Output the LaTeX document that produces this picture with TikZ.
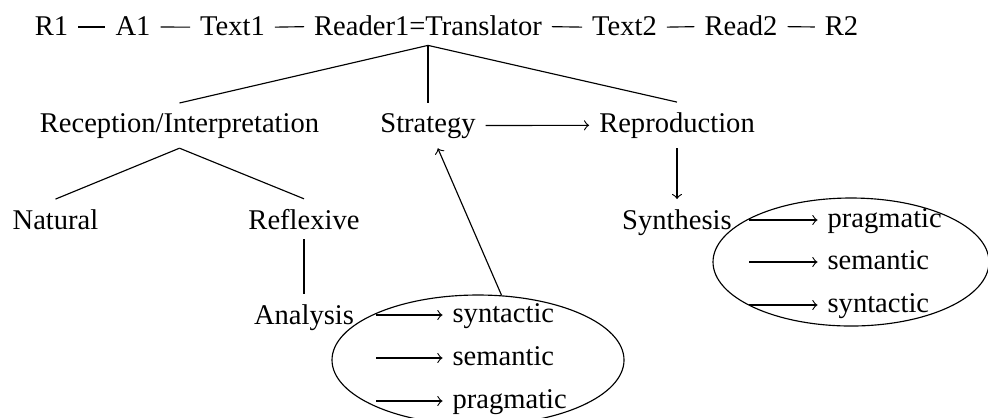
\documentclass[tikz,border=0pt]{standalone}
\usepackage{fontspec}
\setmainfont{Liberation Serif}
\usetikzlibrary{shapes.geometric}

\begin{document}
\begin{tikzpicture}[x=0.35pt, y=-0.35pt]
  \tikzset{every node/.style={anchor=base},
    word/.style={anchor=base west},
    bubble/.style={draw, ellipse, anchor=center, inner sep=0pt}}
  \useasboundingbox (0,0) rectangle (988,417);
  \node (r1) at (51.5,35) {R1};
  \node (a1) at (133,35) {A1};
  \node (text1) at (232.5,35) {Text1};
  \node (reader) at (428,35) {Reader1=Translator};
  \node (text2) at (624.5,35) {Text2};
  \node (read2) at (741,35) {Read2};
  \node (r2) at (841.5,35) {R2};
  \foreach \a/\b in {r1/a1, a1/text1, text1/reader, reader/text2, text2/read2, read2/r2}
    \draw ([yshift=-0.5pt]\a.east) -- ([yshift=-0.5pt]\b.west);
  \node (recep) at (179.5,132) {Reception/Interpretation};
  \node (strat) at (428,132) {Strategy};
  \node (repro) at (677,132) {Reproduction};
  \node (natural) at (55.5,229) {Natural};
  \node (reflex) at (304,229) {Reflexive};
  \node (synth) at (677,229) {Synthesis};
  \node (analysis) at (304,324) {Analysis};
  \node[bubble, minimum width=102.2pt, minimum height=45.5pt] (aell) at (478,360) {};
  \node[bubble, minimum width=96.6pt, minimum height=44.8pt] (sell) at (851,262) {};
  \foreach \name/\txt/\y in {asyn/syntactic/322, asem/semantic/365, aprag/pragmatic/408} {
    \node[word] (\name) at (442.5,\y) {\txt};
    \coordinate (\name0) at (376,\y-7);
    \draw[->] (\name0) -- (\name0 -| \name.west);
  }
  \foreach \name/\txt/\y in {sprag/pragmatic/227, ssem/semantic/269, ssyn/syntactic/312} {
    \node[word] (\name) at (817.5,\y) {\txt};
    \coordinate (\name0) at (749,\y-7);
    \draw[->] (\name0) -- (\name0 -| \name.west);
  }
  \draw (reader.south) -- (recep.north);
  \draw (reader.south) -- (strat.north);
  \draw (reader.south) -- (repro.north);
  \draw (recep.south) -- (natural.north);
  \draw (recep.south) -- (reflex.north);
  \draw (reflex) -- (analysis);
  \draw[->] (strat) -- (repro);
  \draw[->] (repro) -- (synth);
  \draw[->] (aell.70) -- (strat);
\end{tikzpicture}
\end{document}
